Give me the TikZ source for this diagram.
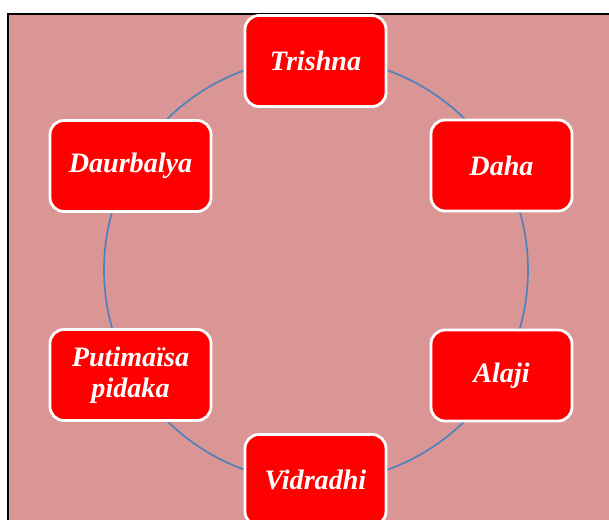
\documentclass[tikz,border=0pt]{standalone}
\usepackage{fontspec}
\setmainfont{Liberation Serif}
\definecolor{panel}{HTML}{D99694}
\definecolor{ring}{HTML}{4F81BD}

\begin{document}
\begin{tikzpicture}[x=0.025cm, y=-0.025cm,
    stage/.style={draw=white, line width=2pt, fill=red, rounded corners=0.35cm,
        minimum width=3.525cm, minimum height=2.275cm, align=center,
        text=white, font=\fontsize{20}{22}\selectfont\bfseries\itshape},
    widestage/.style={stage, minimum width=4.025cm}]
    \useasboundingbox (0,0) rectangle (609,519);
    \clip (0,0) rectangle (609,519);
    \fill[white] (0,0) rectangle (609,519);
    \draw[fill=panel, line width=1.5pt] (8,14) rectangle (620,530);
    \coordinate (O) at (316,270);
    \draw[ring, line width=1.2pt] (O) circle (212);
    \node[stage] (trishna) at (315.5,61) {Trishna};
    \node[stage] (daha) at (501.5,165.5) {Daha};
    \node[stage] (alaji) at (501.5,375.5) {Alaji};
    \node[stage] (vidradhi) at (315.5,480) {Vidradhi};
    \node[widestage] (putimaisa) at (130.5,375) {Putimaïsa\\pidaka};
    \node[widestage] (daurbalya) at (130.5,166) {Daurbalya};
\end{tikzpicture}
\end{document}
